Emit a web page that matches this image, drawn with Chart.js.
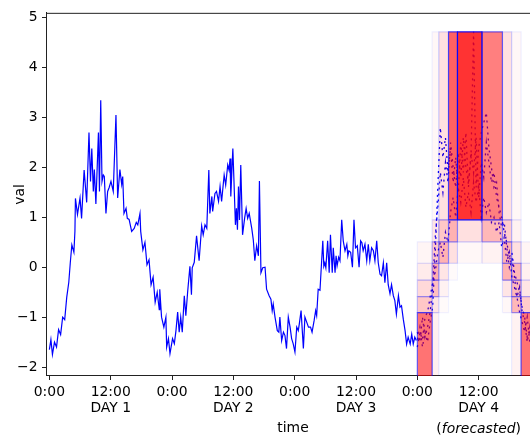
<!DOCTYPE html>
<html>
<head>
<meta charset="utf-8">
<script src="https://cdn.jsdelivr.net/npm/chart.js@4/dist/chart.umd.min.js"></script>
<style>
  html, body { margin: 0; padding: 0; background: #fff; overflow: hidden; width: 530px; height: 439px; }
  canvas { display: block; }
</style>
</head>
<body>
<canvas id="chart" width="552" height="439"></canvas>
<script>
// Measured series: hours since 0:00 of day 1, and value
const day1Hours = [0,0.3,0.6,1,1.4,1.8,2.2,2.6,3,3.4,
  3.8,4.1,4.4,4.8,5,5.1,5.5,6,6.3,6.8,
  7.3,7.75,8.05,8.3,8.6,8.8,9.1,9.6,9.8,10.05,
  10.3,10.55,10.75,11.07,11.4,11.7,12.05,12.5,13.03,13.36,
  13.8,14.15,14.35,14.6,15,15.25,15.6,16.1,16.6,17,
  17.3,17.73,17.87,18.3,18.7,19.1,19.5,19.9,20.3,20.7,
  21.1,21.5,21.6,21.95,22.4,22.8,22.95,23.3,23.6];
const day1Values = [-1.65,-1.45,-1.75,-1.5,-1.6,-1.25,-1.35,-1.0,-1.05,-0.6,
  -0.3,0.1,0.45,0.3,0.72,1.38,1.06,1.39,0.98,1.95,
  1.3,2.7,1.72,2.38,1.52,1.96,1.27,2.7,1.52,3.35,
  1.72,1.85,1.82,1.08,1.52,1.6,1.72,1.52,3.05,1.39,
  1.96,1.66,1.82,1.08,1.18,0.98,0.96,0.72,0.78,0.9,
  0.85,1.08,0.72,0.35,0.5,0.05,0.15,-0.35,-0.2,-0.7,
  -0.5,-0.85,-0.44,-1.0,-1.2,-1.0,-1.6,-1.43,-1.73];

const day2Hours = [24.1,24.45,24.77,25.1,25.4,25.7,26,26.4,26.7,27.05,
  27.5,27.8,27.95,28.35,28.8,29.3,29.8,30.1,30.45,30.8,
  31.2,31.4,31.8,31.95,32.4,32.7,33.1,33.4,33.7,34.2,
  34.5,34.9,35.15,35.35,35.5,35.9,36.1,36.4,36.6,36.8,
  37,37.2,37.45,37.8,38.2,38.5,38.8,39.1,39.6,39.9,
  40.2,40.55,40.9,41.1,41.4,41.75,42.2,42.5,43,43.35,
  43.6,43.8,44.15,44.6,44.9,45.1,45.45,45.8,46.1,46.4,
  46.75,47.1,47.4,47.7];
const day2Values = [-1.43,-1.53,-1.27,-0.9,-1.3,-1.0,-1.3,-0.57,-0.97,-0.5,
  0.02,-0.55,-0.01,0.1,0.63,0.13,0.83,0.65,0.85,0.78,
  1.95,1.08,1.42,1.12,1.48,1.52,1.32,1.62,1.32,1.85,
  1.65,2.05,1.95,2.18,1.42,2.38,1.79,0.85,1.18,0.75,
  1.62,0.95,2.05,0.65,0.98,1.18,0.98,1.08,0.78,0.55,
  0.13,0.43,0.23,1.73,-0.11,-0.01,0.0,-0.44,-0.57,-0.64,
  -0.87,-0.74,-1.0,-1.27,-1.3,-1.0,-1.47,-1.3,-1.37,-1.63,
  -1.0,-1.2,-1.43,-1.53];

const day3Hours = [48.05,48.4,48.7,48.9,49.25,49.7,50,50.35,50.7,51.1,
  51.4,51.8,52.1,52.3,52.6,52.95,53.5,53.7,53.9,54.1,
  54.45,54.75,55,55.35,55.55,55.9,56.1,56.3,56.6,56.86,
  57.2,57.5,57.85,58.2,58.4,58.6,58.95,59.3,59.6,59.9,
  60.25,60.6,60.9,61.15,61.4,61.75,62.1,62.4,62.7,63.05,
  63.4,63.7,64.05,64.35,64.7,65,65.35,65.65,66,66.3,
  66.65,66.95,67.3,67.6,67.9,68.3,68.6,68.9,69.25,69.6,
  69.9,70.2,70.6,70.9,71.2,71.5,71.8];
const day3Values = [-1.7,-1.2,-1.27,-1.14,-0.87,-1.63,-1.0,-1.1,-1.2,-1.2,
  -1.3,-1.07,-0.87,-0.97,-0.44,-0.46,0.53,0.02,0.09,-0.01,
  0.53,-0.11,0.65,-0.11,0.39,-0.11,0.23,0.03,0.2,0.13,
  0.95,0.53,0.33,0.46,0.23,0.33,0.3,0.0,0.95,0.39,
  0.43,0.0,0.53,0.49,0.33,0.46,0.13,0.46,0.13,0.39,
  0.33,0.13,0.53,0.09,-0.14,-0.17,0.09,-0.31,0.09,-0.35,
  -0.53,-0.35,-0.57,-0.67,-0.94,-0.57,-0.8,-0.77,-1.04,-1.27,
  -1.54,-1.4,-1.54,-1.34,-1.54,-1.4,-1.47];

// Forecast sample paths for day 4 (half-hour steps)
const forecastHours = [72,72.5,73,73.5,74,74.5,75,75.5,76,76.5,
  77,77.5,78,78.5,79,79.5,80,80.5,81,81.5,
  82,82.5,83,83.5,84,84.5,85,85.5,86,86.5,
  87,87.5,88,88.5,89,89.5,90,90.5,91,91.5,
  92,92.5,93,93.5,94,94.5,95,95.5];
const forecastSampleA = [-1.45,-1.2,-1.6,-1.3,-1.5,-1.1,-0.8,0.3,1.6,2.8,
  2.2,2.6,1.9,2.4,1.7,2.2,1.5,2.5,1.9,2.7,
  1.6,2.3,1.9,2.6,1.4,2.1,1.8,2.5,2.1,1.7,
  1.9,1.4,1.2,1.0,0.7,0.5,0.2,0.3,-0.1,-0.3,
  -0.5,-0.8,-1.0,-1.4,-1.3,-1.6,-1.5,-1.7];
const forecastSampleB = [-1.3,-1.5,-1.0,-1.4,-1.2,-0.9,-0.4,0.6,1.2,1.9,
  1.5,2.1,1.7,2.5,2.0,1.6,2.3,1.8,2.6,2.0,
  1.7,2.2,4.72,1.6,2.4,2.7,2.9,3.1,2.4,2.0,
  1.6,1.7,1.1,0.8,0.9,0.4,0.0,0.2,-0.2,-0.6,
  -0.4,-0.9,-1.1,-1.5,-1.2,-1.6,-1.4,-1.7];
const forecastSampleC = [-1.6,-1.3,-1.45,-1.0,-0.9,-0.6,-0.3,-0.1,0.3,0.5,
  0.2,0.7,0.5,1.1,1.4,1.0,1.6,1.3,1.8,1.2,
  1.5,1.1,1.7,1.3,1.6,1.0,1.4,1.1,1.3,0.9,
  1.0,0.7,0.9,0.4,0.6,0.1,0.3,-0.2,-0.4,-0.6,
  -0.9,-1.1,-1.3,-1.0,-1.5,-1.3,-1.7,-1.5];

// Forecast density: bin edges in time and value, density per cell (rows bottom to top)
const densityHourEdges = [72, 74.9, 76.2, 78.1, 79.85, 84.65, 88.65, 90.45, 92.3, 96];
const densityValueEdges = [-2.3, -0.91, -0.59, -0.26, 0.08, 0.51, 0.95, 4.72];
const densityRows = [
  [0.55, 0.06, 0,    0,    0,    0,    0,    0.05, 0.55],
  [0.22, 0.10, 0.02, 0,    0,    0,    0.03, 0.28, 0.20],
  [0.15, 0.25, 0.05, 0,    0,    0,    0.10, 0.28, 0.10],
  [0.08, 0.32, 0.10, 0.02, 0,    0,    0.30, 0.28, 0.06],
  [0.04, 0.22, 0.30, 0.12, 0.03, 0.05, 0.30, 0.12, 0.04],
  [0,    0.10, 0.22, 0.30, 0.12, 0.28, 0.20, 0.05, 0],
  [0,    0.03, 0.12, 0.62, 0.80, 0.50, 0.12, 0.03, 0]
];

// Axis ticks
const hourTicks = [0, 12, 24, 36, 48, 60, 72, 84];
const hourTickLabels = ['0:00', ['12:00', 'DAY 1'], '0:00', ['12:00', 'DAY 2'],
  '0:00', ['12:00', 'DAY 3'], '0:00', ['12:00', 'DAY 4']];
const valueTicks = [-2, -1, 0, 1, 2, 3, 4, 5];

const FAMILY = "'DejaVu Sans', sans-serif";
const SIZE = 13.9;
Chart.defaults.font.family = FAMILY;
Chart.defaults.font.size = SIZE;
Chart.defaults.color = '#000';

const toPoints = (hours, values) => hours.map((h, i) => ({ x: h, y: values[i] }));

const datasets = [];

// measured line
datasets.push({
  data: toPoints(day1Hours.concat(day2Hours, day3Hours), day1Values.concat(day2Values, day3Values)),
  borderColor: '#0000ff', borderWidth: 1.2, pointRadius: 0, fill: false, tension: 0, order: 3
});

// forecast samples, dashed
[forecastSampleA, forecastSampleB, forecastSampleC].forEach(sample => {
  datasets.push({
    data: toPoints(forecastHours, sample),
    borderColor: '#0000ff', borderWidth: 1.3, borderDash: [2, 4],
    pointRadius: 0, fill: false, tension: 0, order: 2
  });
});

// density cells: a filled band plus an outline per cell
densityRows.forEach((row, r) => {
  row.forEach((a, c) => {
    if (!a) return;
    const x0 = densityHourEdges[c], x1 = densityHourEdges[c + 1];
    const y0 = densityValueEdges[r], y1 = densityValueEdges[r + 1];
    datasets.push({
      data: [{ x: x0, y: y1 }, { x: x1, y: y1 }],
      fill: { value: y0 },
      backgroundColor: `rgba(255,0,0,${a})`,
      borderColor: 'rgba(0,0,0,0)', borderWidth: 0,
      pointRadius: 0, tension: 0, order: 1
    });
    datasets.push({
      data: [{ x: x0, y: y0 }, { x: x0, y: y1 }, { x: x1, y: y1 }, { x: x1, y: y0 }, { x: x0, y: y0 }],
      fill: false,
      borderColor: `rgba(0,0,255,${Math.min(0.9, a * 1.05 + 0.03)})`, borderWidth: 1.2,
      pointRadius: 0, tension: 0, order: 0
    });
  });
});

// top/right frame and the "(forecasted)" note under day 4
const frameAndNote = {
  id: 'frameAndNote',
  afterDraw(chart) {
    const { ctx, chartArea: { left, top, right, bottom }, scales: { x } } = chart;
    ctx.save();
    ctx.strokeStyle = '#222';
    ctx.lineWidth = 1;
    ctx.beginPath();
    ctx.moveTo(left, top + 0.5);
    ctx.lineTo(right + 0.5, top + 0.5);
    ctx.lineTo(right + 0.5, bottom);
    ctx.stroke();

    const normal = `${SIZE}px ${FAMILY}`;
    const italic = `italic ${SIZE}px ${FAMILY}`;
    ctx.font = normal;
    const wOpen = ctx.measureText('(').width;
    const wClose = ctx.measureText(')').width;
    ctx.font = italic;
    const wWord = ctx.measureText('forecasted').width;
    let px = x.getPixelForValue(84) - (wOpen + wWord + wClose) / 2;
    const baseline = 433;
    ctx.fillStyle = '#000';
    ctx.textAlign = 'left';
    ctx.textBaseline = 'alphabetic';
    ctx.font = normal; ctx.fillText('(', px, baseline); px += wOpen;
    ctx.font = italic; ctx.fillText('forecasted', px, baseline); px += wWord;
    ctx.font = normal; ctx.fillText(')', px, baseline);
    ctx.restore();
  }
};

new Chart(document.getElementById('chart'), {
  type: 'line',
  data: { datasets },
  plugins: [frameAndNote],
  options: {
    responsive: false,
    animation: false,
    devicePixelRatio: 1,
    events: [],
    layout: { padding: { left: 0, top: 10, right: 12, bottom: 0 } },
    plugins: { legend: { display: false }, tooltip: { enabled: false } },
    scales: {
      x: {
        type: 'linear',
        min: -0.66,
        max: 96,
        afterBuildTicks: s => { s.ticks = hourTicks.map(v => ({ value: v })); },
        afterFit: s => { s.height = 63; },
        ticks: {
          autoSkip: false, maxRotation: 0, minRotation: 0, padding: 4,
          font: { size: SIZE, lineHeight: '16px' },
          callback: v => hourTickLabels[hourTicks.indexOf(v)]
        },
        grid: { drawOnChartArea: false, drawTicks: true, tickLength: 4, tickColor: '#222', tickWidth: 1 },
        border: { display: true, color: '#222', width: 1 },
        title: { display: true, text: 'time', font: { size: SIZE, lineHeight: '16px' }, padding: { top: 0, bottom: 3 } }
      },
      y: {
        type: 'linear',
        min: -2.18,
        max: 5.1,
        afterBuildTicks: s => { s.ticks = valueTicks.map(v => ({ value: v })); },
        afterFit: s => { s.width = 46; },
        ticks: {
          padding: 4.5,
          font: { size: SIZE },
          callback: v => String(v).replace('-', '\u2212')
        },
        grid: { drawOnChartArea: false, drawTicks: true, tickLength: 4, tickColor: '#222', tickWidth: 1 },
        border: { display: true, color: '#222', width: 1 },
        title: { display: true, text: 'val', font: { size: SIZE, lineHeight: '16px' }, padding: { top: 12, bottom: 0 } }
      }
    }
  }
});
</script>
</body>
</html>
